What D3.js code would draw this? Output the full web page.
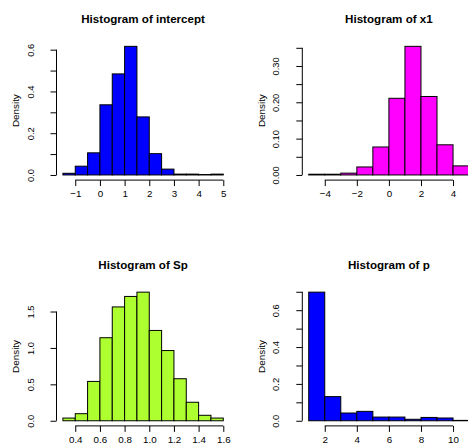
<!DOCTYPE html>
<html>
<head>
<meta charset="utf-8">
<script src="https://cdn.jsdelivr.net/npm/d3@7/dist/d3.min.js"></script>
<style>
  html, body { margin: 0; padding: 0; background: #fff; }
  svg { display: block; font-family: "Liberation Sans", Arial, Helvetica, sans-serif; }
</style>
</head>
<body>
<svg id="chart" width="468" height="448"></svg>
<script>
// ---------- data ----------
const interceptBreaks  = [-1.5, -1, -0.5, 0, 0.5, 1, 1.5, 2, 2.5, 3, 3.5, 4, 4.5, 5];
const interceptDensity = [0.008, 0.042, 0.106, 0.336, 0.484, 0.616, 0.278, 0.102, 0.028, 0.004, 0.004, 0.002, 0.004];
const interceptXTicks  = [-1, 0, 1, 2, 3, 4, 5];
const interceptYTicks  = [0, 0.1, 0.2, 0.3, 0.4, 0.5, 0.6];
const interceptYLabels = [0, 0.2, 0.4, 0.6];

const x1Breaks  = [-5, -4, -3, -2, -1, 0, 1, 2, 3, 4, 5];
const x1Density = [0.002, 0.002, 0.005, 0.022, 0.077, 0.211, 0.354, 0.216, 0.083, 0.025];
const x1XTicks  = [-4, -2, 0, 2, 4];
const x1YTicks  = [0, 0.05, 0.1, 0.15, 0.2, 0.25, 0.3, 0.35];
const x1YLabels = [0, 0.1, 0.2, 0.3];

const spBreaks  = [0.3, 0.4, 0.5, 0.6, 0.7, 0.8, 0.9, 1.0, 1.1, 1.2, 1.3, 1.4, 1.5, 1.6];
const spDensity = [0.037, 0.097, 0.54, 1.14, 1.563, 1.707, 1.766, 1.24, 0.964, 0.577, 0.254, 0.075, 0.037];
const spXTicks  = [0.4, 0.6, 0.8, 1.0, 1.2, 1.4, 1.6];
const spYTicks  = [0, 0.5, 1.0, 1.5];
const spYLabels = [0, 0.5, 1.0, 1.5];

const pBreaks  = [1, 2, 3, 4, 5, 6, 7, 8, 9, 10, 11];
const pDensity = [0.698, 0.131, 0.042, 0.051, 0.02, 0.02, 0.008, 0.018, 0.015, 0.002];
const pXTicks  = [2, 4, 6, 8, 10];
const pYTicks  = [0, 0.1, 0.2, 0.3, 0.4, 0.5, 0.6, 0.7];
const pYLabels = [0, 0.2, 0.4, 0.6];

const titles = ["Histogram of intercept", "Histogram of x1", "Histogram of Sp", "Histogram of p"];
const colors = ["#0000FF", "#FF00FF", "#ADFF2F", "#0000FF"];
const yLabelText = "Density";

// ---------- layout ----------
const P = 245.8;                       // panel size (original figure was cropped)
const M = { left: 56.5, right: 16.1, top: 41.2, bottom: 65.7 };

const panels = [
  { title: titles[0], color: colors[0], breaks: interceptBreaks, dens: interceptDensity,
    xTicks: interceptXTicks, yTicks: interceptYTicks, yLabels: interceptYLabels,
    xFmt: d3.format("d"), yFmt: d3.format(".1f"), col: 0, row: 0 },
  { title: titles[1], color: colors[1], breaks: x1Breaks, dens: x1Density,
    xTicks: x1XTicks, yTicks: x1YTicks, yLabels: x1YLabels,
    xFmt: d3.format("d"), yFmt: d3.format(".2f"), col: 1, row: 0 },
  { title: titles[2], color: colors[2], breaks: spBreaks, dens: spDensity,
    xTicks: spXTicks, yTicks: spYTicks, yLabels: spYLabels,
    xFmt: d3.format(".1f"), yFmt: d3.format(".1f"), col: 0, row: 1 },
  { title: titles[3], color: colors[3], breaks: pBreaks, dens: pDensity,
    xTicks: pXTicks, yTicks: pYTicks, yLabels: pYLabels,
    xFmt: d3.format("d"), yFmt: d3.format(".1f"), col: 1, row: 1 }
];

const svg = d3.select("#chart");
const minus = s => s.replace("-", "\u2212");

panels.forEach(p => {
  const ox = p.col * P, oy = p.row * P;
  const left = ox + M.left, right = ox + P - M.right;
  const top = oy + M.top, bottom = oy + P - M.bottom;

  const b0 = p.breaks[0], bN = p.breaks[p.breaks.length - 1];
  const xr = bN - b0;
  const x = d3.scaleLinear().domain([b0 - 0.04 * xr, bN + 0.04 * xr]).range([left, right]);
  const ymax = d3.max(p.dens);
  const y = d3.scaleLinear().domain([-0.04 * ymax, 1.04 * ymax]).range([bottom, top]);

  const g = svg.append("g");

  // bars
  const bins = p.dens.map((d, i) => ({ x0: p.breaks[i], x1: p.breaks[i + 1], d }));
  g.selectAll("rect.bar").data(bins).enter().append("rect")
    .attr("class", "bar")
    .attr("x", d => x(d.x0))
    .attr("width", d => x(d.x1) - x(d.x0))
    .attr("y", d => y(d.d))
    .attr("height", d => y(0) - y(d.d))
    .attr("fill", p.color)
    .attr("stroke", "#000")
    .attr("stroke-width", 1);

  // x axis
  const xa = g.append("g").attr("transform", `translate(0,${bottom})`)
    .call(d3.axisBottom(x).tickValues(p.xTicks).tickSize(6).tickSizeOuter(0)
      .tickFormat(d => minus(p.xFmt(d))));
  xa.select(".domain").remove();
  xa.append("line")
    .attr("x1", x(p.xTicks[0])).attr("x2", x(p.xTicks[p.xTicks.length - 1]))
    .attr("y1", 0).attr("y2", 0).attr("stroke", "#000");
  xa.selectAll(".tick line").attr("stroke", "#000");
  xa.selectAll(".tick text")
    .attr("y", 17.4).attr("dy", null)
    .attr("fill", "#000").attr("font-size", "9.8px")
    .attr("font-family", "Liberation Sans, Arial, sans-serif");

  // y axis
  const isLabeled = d => p.yLabels.some(v => Math.abs(v - d) < 1e-9);
  const ya = g.append("g").attr("transform", `translate(${left},0)`)
    .call(d3.axisLeft(y).tickValues(p.yTicks).tickSize(6).tickSizeOuter(0)
      .tickFormat(d => isLabeled(d) ? p.yFmt(d) : ""));
  ya.select(".domain").remove();
  ya.append("line")
    .attr("x1", 0).attr("x2", 0)
    .attr("y1", y(p.yTicks[0])).attr("y2", y(p.yTicks[p.yTicks.length - 1]))
    .attr("stroke", "#000");
  ya.selectAll(".tick line").attr("stroke", "#000");
  ya.selectAll(".tick text")
    .attr("x", null).attr("dy", null)
    .attr("transform", "translate(-23,0) rotate(-90)")
    .attr("text-anchor", "middle")
    .attr("fill", "#000").attr("font-size", "9.4px")
    .attr("font-family", "Liberation Sans, Arial, sans-serif");

  // y label
  g.append("text")
    .attr("transform", `translate(${ox + 18.8},${(top + bottom) / 2}) rotate(-90)`)
    .attr("text-anchor", "middle")
    .attr("font-size", "9.9px")
    .attr("fill", "#000")
    .text(yLabelText);

  // title
  g.append("text")
    .attr("x", (left + right) / 2)
    .attr("y", oy + 23.4)
    .attr("text-anchor", "middle")
    .attr("font-size", "11.6px")
    .attr("font-weight", "bold")
    .attr("fill", "#000")
    .text(p.title);
});
</script>
</body>
</html>
